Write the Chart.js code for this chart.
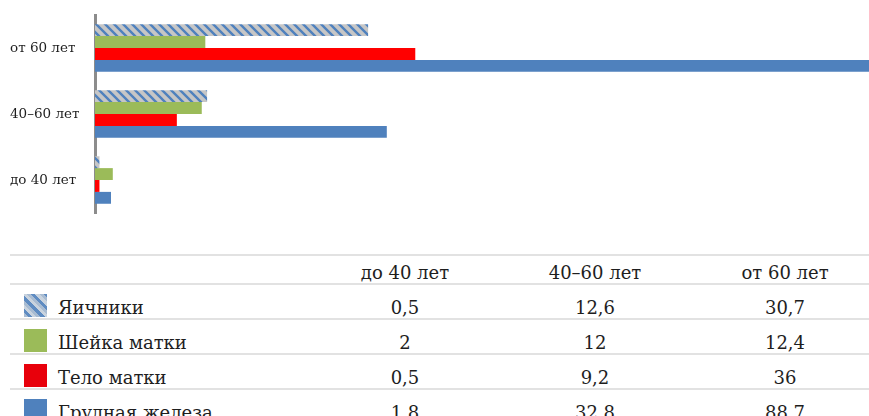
<!DOCTYPE html>
<html>
<head>
<meta charset="utf-8">
<script src="https://cdn.jsdelivr.net/npm/chart.js@4/dist/chart.umd.min.js"></script>
<style>
  body { margin: 0; background: #fff; width: 869px; height: 416px; overflow: hidden; position: relative; font-family: "DejaVu Serif", serif; color: #1e1e1e; }
  #chartBox { position: absolute; left: 0; top: 0; width: 869px; height: 227px; }
  table { position: absolute; left: 10px; top: 254px; width: 870px; border-collapse: collapse; font-size: 18px; }
  td, th { font-weight: normal; border-top: 2px solid #e2e2e2; padding: 0; }
  th { height: 27px; text-align: center; vertical-align: bottom; }
  td { height: 33px; text-align: center; vertical-align: bottom; }
  td.name { text-align: left; width: 300px; white-space: nowrap; }
  td.val, th.val { width: 190px; }
  .sw { display: inline-block; width: 23px; height: 23px; margin: 0 11px 0 14px; vertical-align: -3px; }
</style>
</head>
<body>
<div id="chartBox"><canvas id="bars"></canvas></div>
<table id="tbl"></table>
<script>
// --- DATA (table order) ---
const categories = ['до 40 лет', '40–60 лет', 'от 60 лет'];
const seriesNames = ['Яичники', 'Шейка матки', 'Тело матки', 'Грудная железа'];
const ovary = [0.5, 12.6, 30.7];
const cervix = [2, 12, 12.4];
const uterus = [0.5, 9.2, 36];
const breast = [1.8, 32.8, 88.7];
const seriesValues = [ovary, cervix, uterus, breast];

// --- COLOURS ---
const green = '#9bbb59';
const red = '#ff0000';
const blue = '#4f81bd';

// hatched fill for the first series
function makeHatch() {
    const c = document.createElement('canvas');
    c.width = 9; c.height = 9;
    const g = c.getContext('2d');
    g.fillStyle = '#c6c6c6';
    g.fillRect(0, 0, 9, 9);
    g.strokeStyle = blue;
    g.lineWidth = 2.4;
    g.beginPath();
    g.moveTo(-2, -2); g.lineTo(11, 11);
    g.moveTo(-11, -2); g.lineTo(2, 11);
    g.moveTo(7, -2); g.lineTo(20, 11);
    g.stroke();
    return g.createPattern(c, 'repeat');
}
const colors = [makeHatch(), green, red, blue];
const swatchCss = [
    'repeating-linear-gradient(45deg, #a9bcd2 0 3px, #5f8cc2 3px 6px, #c9d3de 6px 9px)',
    green, '#e8000b', blue
];

// --- CHART (oldest group at the top) ---
const chartLabels = categories.slice().reverse();

new Chart(document.getElementById('bars'), {
    type: 'bar',
    data: {
        labels: chartLabels,
        datasets: seriesNames.map((name, i) => ({
            label: name,
            data: seriesValues[i].slice().reverse(),
            backgroundColor: colors[i],
            borderWidth: 0,
            categoryPercentage: 0.72,
            barPercentage: 1.0
        }))
    },
    options: {
        indexAxis: 'y',
        responsive: true,
        maintainAspectRatio: false,
        animation: false,
        layout: { padding: { left: 10, right: 0, top: 15, bottom: 14 } },
        scales: {
            x: { display: false, min: 0, max: 87 },
            y: {
                afterFit: s => { s.width = 85; },
                grid: { display: false },
                border: { display: true, color: '#8c8c8c', width: 3 },
                ticks: {
                    crossAlign: 'far',
                    color: '#1e1e1e',
                    font: { family: 'DejaVu Serif', size: 13.5 }
                }
            }
        },
        plugins: { legend: { display: false }, tooltip: { enabled: false } }
    }
});

// --- TABLE BELOW ---
const tbl = document.getElementById('tbl');
let html = '<tr><th></th>' + categories.map(c => '<th class="val">' + c + '</th>').join('') + '</tr>';
seriesNames.forEach((name, i) => {
    html += '<tr><td class="name"><span class="sw" style="background:' + swatchCss[i] + '"></span>' + name + '</td>' +
        seriesValues[i].map(v => '<td class="val">' + String(v).replace('.', ',') + '</td>').join('') + '</tr>';
});
tbl.innerHTML = html;
</script>
</body>
</html>
